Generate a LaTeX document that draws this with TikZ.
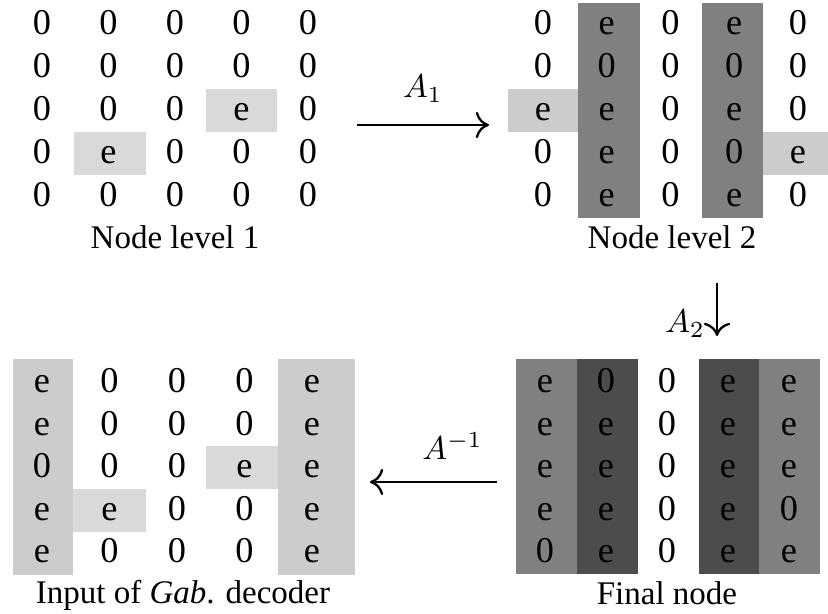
\documentclass[tikz,border=0pt]{standalone}
\usepackage{fontspec}
\setmainfont{Liberation Serif}
\usetikzlibrary{arrows.meta}
\definecolor{CellLight}{gray}{0.85}
\definecolor{CellPale}{gray}{0.8}
\definecolor{CellMid}{gray}{0.5}
\definecolor{CellDark}{gray}{0.3}

\begin{document}
\begin{tikzpicture}[x=0.303pt, y=-0.303pt,
    entry/.style={inner sep=0pt, text height=7.6pt, text depth=0pt,
                  font=\fontsize{11}{13}\selectfont},
    caption/.style={inner sep=0pt, font=\fontsize{10}{12}\selectfont},
    arr/.style={-{Computer Modern Rightarrow[length=4pt, width=8pt]},
                line width=0.7pt}
  ]
  \useasboundingbox (0,0) rectangle (828,614);

  % shading behind the entries
  \fill[CellLight] (206,89) rectangle (277,132);
  \fill[CellLight] (74,132) rectangle (146,175);

  \fill[CellMid]  (578,3) rectangle (640,218);
  \fill[CellMid]  (702,3) rectangle (763,218);
  \fill[CellPale] (508,89) rectangle (578,132);
  \fill[CellPale] (763,132) rectangle (828,175);

  \fill[CellPale]  (13,359) rectangle (73,575);
  \fill[CellPale]  (278,359) rectangle (355,575);
  \fill[CellLight] (206,446) rectangle (278,489);
  \fill[CellLight] (73,489) rectangle (146,532);

  \fill[CellMid]  (516,359) rectangle (577,574);
  \fill[CellDark] (577,359) rectangle (638,574);
  \fill[CellDark] (699,359) rectangle (759,574);
  \fill[CellMid]  (759,359) rectangle (820,574);

  % Node level 1
  \foreach \row [count=\r] in {{0,0,0,0,0},{0,0,0,0,0},{0,0,0,e,0},
                               {0,e,0,0,0},{0,0,0,0,0}}
    \foreach \val [count=\c] in \row
      \node[entry] (lvA-\r-\c) at ({42+66.5*(\c-1)}, {22+43*(\r-1)}) {\val};
  \node[caption] (capA) at (175,237) {Node level 1};

  % Node level 2
  \foreach \row [count=\r] in {{0,e,0,e,0},{0,0,0,0,0},{e,e,0,e,0},
                               {0,e,0,0,e},{0,e,0,e,0}}
    \foreach \val [count=\c] in \row
      \node[entry] (lvB-\r-\c) at ({543+63.75*(\c-1)}, {22+43*(\r-1)}) {\val};
  \node[caption] (capB) at (672,237) {Node level 2};

  % Final node
  \foreach \row [count=\r] in {{e,0,0,e,e},{e,e,0,e,e},{e,e,0,e,e},
                               {e,e,0,e,0},{0,e,0,e,e}}
    \foreach \val [count=\c] in \row
      \node[entry] (fin-\r-\c) at ({545+61*(\c-1)}, {380+42.5*(\r-1)}) {\val};
  \node[caption] (capD) at (667,593) {Final node};

  % Input of the decoder
  \foreach \row [count=\r] in {{e,0,0,0,e},{e,0,0,0,e},{0,0,0,e,e},
                               {e,e,0,0,e},{e,0,0,0,e}}
    \foreach \val [count=\c] in \row
      \node[entry] (dec-\r-\c) at ({42+67.5*(\c-1)}, {380+42.5*(\r-1)}) {\val};
  \node[caption] (capC) at (183,595) {Input of \textit{Gab}. decoder};

  % maps between the levels
  \coordinate (fwdA) at (357,125);
  \coordinate (fwdB) at (489,125);
  \draw[arr] (fwdA) -- node[above=3pt] {$A_1$} (fwdB);

  \coordinate (dnA) at (717,283);
  \coordinate (dnB) at (717,336);
  \draw[arr] (dnA) -- node[left, pos=0.77] {$A_2$} (dnB);

  \coordinate (bkA) at (497,482);
  \coordinate (bkB) at (370,482);
  \draw[arr] (bkA) -- node[above=3pt, pos=0.35] {$A^{-1}$} (bkB);
\end{tikzpicture}
\end{document}
